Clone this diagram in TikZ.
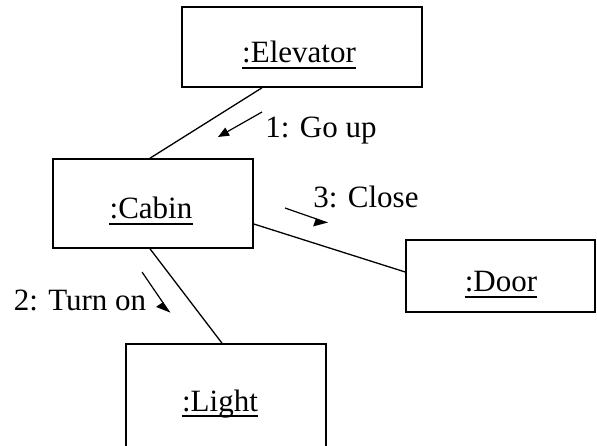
\documentclass[tikz,border=0pt]{standalone}
\usepackage{fontspec}
\setmainfont{Liberation Serif}
\usetikzlibrary{arrows.meta}
\begin{document}
\begin{tikzpicture}[x=1pt,y=-1pt,
  objbox/.style={draw,line width=1.6pt,inner sep=0pt},
  objname/.style={inner sep=0pt,anchor=base,font=\fontsize{31}{36}\selectfont},
  msgtext/.style={inner sep=0pt,anchor=base,font=\fontsize{31}{36}\selectfont},
  uline/.style={line width=1.7pt},
  link/.style={line width=1.3pt},
  msg/.style={line width=1.2pt},
  fullhead/.style={-{Triangle[length=11pt,width=9pt]}},
  halfhead/.style={-{Triangle[length=12pt,width=16pt,right]}}]
\useasboundingbox (0,0) rectangle (597,446);
\clip (0,0) rectangle (597,446);

% object boxes
\node[objbox,minimum width=240pt,minimum height=80pt] (elev) at (302,47) {};
\node[objbox,minimum width=200pt,minimum height=89pt] (cabin) at (153,203.5) {};
\node[objbox,minimum width=189pt,minimum height=72pt] (door) at (500.5,276) {};
\node[objbox,minimum width=200pt,minimum height=130pt] (light) at (226,409) {};

% object names (underlined)
\node[objname] (elevT) at (299,63) {:Elevator};
\node[objname] (cabinT) at (151,219) {:Cabin};
\node[objname] (doorT) at (501,292) {:Door};
\node[objname] (lightT) at (220,411) {:Light};
\foreach \t in {elevT,cabinT,doorT,lightT}
  \draw[uline] ([yshift=-5pt]\t.base west) -- ([yshift=-5pt]\t.base east);

% links
\draw[link] ([xshift=-40pt]elev.south) -- ([xshift=-3pt]cabin.north);
\draw[link] ([yshift=-20.5pt]cabin.east) -- ([yshift=4pt]door.west);
\draw[link] ([xshift=-3pt]cabin.south) -- ([xshift=-4pt]light.north);

% messages
\coordinate (m1a) at (262,112);
\coordinate (m1b) at (218,137);
\draw[msg,fullhead] (m1a) -- (m1b);
\node[msgtext] (m1) at (321,138) {1: Go up};

\coordinate (m3a) at (285,208);
\coordinate (m3b) at (328,223);
\draw[msg,halfhead] (m3a) -- (m3b);
\node[msgtext] (m3) at (366,208) {3: Close};

\coordinate (m2a) at (142,272);
\coordinate (m2b) at (170,313);
\draw[msg,halfhead] (m2a) -- (m2b);
\node[msgtext] (m2) at (80,311) {2: Turn on};
\end{tikzpicture}
\end{document}
